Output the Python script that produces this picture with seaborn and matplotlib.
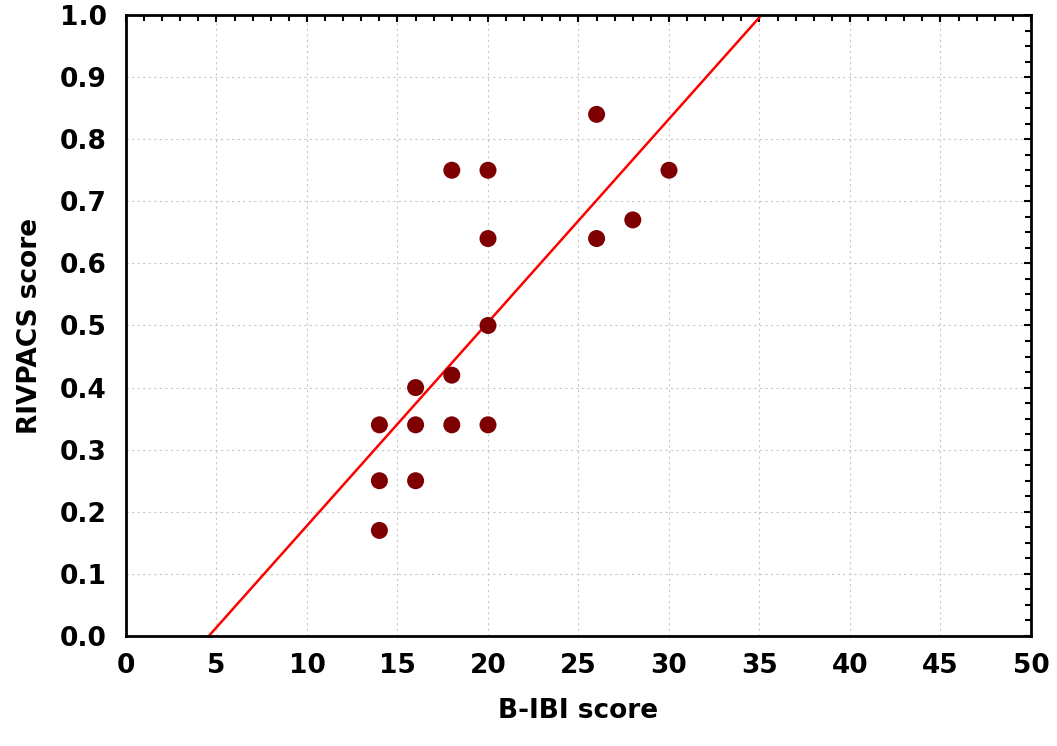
import matplotlib
matplotlib.use("Agg")
import matplotlib.pyplot as plt
import numpy as np
import pandas as pd
import seaborn as sns
from matplotlib.ticker import MultipleLocator

# B-IBI vs RIVPACS scores
bibi = [14, 14, 14, 16, 16, 16, 18, 18, 18, 20, 20, 20, 20, 26, 26, 28, 30]
rivpacs = [0.34, 0.25, 0.17, 0.40, 0.34, 0.25, 0.75, 0.42, 0.34,
           0.75, 0.64, 0.50, 0.34, 0.84, 0.64, 0.67, 0.75]

df = pd.DataFrame({"B-IBI score": bibi, "RIVPACS score": rivpacs})

sns.set_style("white")
plt.rcParams["font.family"] = ["DejaVu Sans"]
plt.rcParams["text.color"] = "black"
plt.rcParams["axes.labelcolor"] = "black"
plt.rcParams["xtick.color"] = "black"
plt.rcParams["ytick.color"] = "black"

fig = plt.figure(figsize=(10.57, 7.46), dpi=100)
ax = fig.add_axes([0.1192, 0.1475, 0.8562, 0.8324])
ax.set_xlim(0, 50)
ax.set_ylim(0, 1.0)

sns.regplot(data=df, x="B-IBI score", y="RIVPACS score", ax=ax, ci=None,
            truncate=False,
            scatter_kws=dict(s=150, color="#7f0000", edgecolor="none", zorder=3, alpha=1),
            line_kws=dict(color="#ff0000", lw=1.8, zorder=2))

ax.set_xlim(0, 50)
ax.set_ylim(0, 1.0)
ax.xaxis.set_major_locator(MultipleLocator(5))
ax.xaxis.set_minor_locator(MultipleLocator(1))
ax.yaxis.set_major_locator(MultipleLocator(0.1))
ax.yaxis.set_minor_locator(MultipleLocator(0.025))
ax.set_yticklabels([f"{v:.1f}" for v in ax.get_yticks()])

ax.grid(True, which="major", linestyle=(0, (2, 3)), color="#c8c8c8", lw=0.8)
ax.set_axisbelow(True)
for s in ax.spines.values():
    s.set_color("black")
    s.set_linewidth(2)
ax.tick_params(which="both", direction="in", top=True, right=True,
               color="black", width=1.5)
ax.tick_params(which="major", length=5, labelsize=19)
ax.tick_params(axis="y", which="major", pad=14)
ax.tick_params(axis="x", which="major", pad=12)
ax.tick_params(which="minor", length=4)
for lab in ax.get_xticklabels() + ax.get_yticklabels():
    lab.set_fontweight("bold")

ax.set_xlabel("B-IBI score", fontsize=19, fontweight="bold", labelpad=14)
ax.set_ylabel("RIVPACS score", fontsize=19, fontweight="bold", labelpad=12)

fig.savefig("out.png", dpi=100)
